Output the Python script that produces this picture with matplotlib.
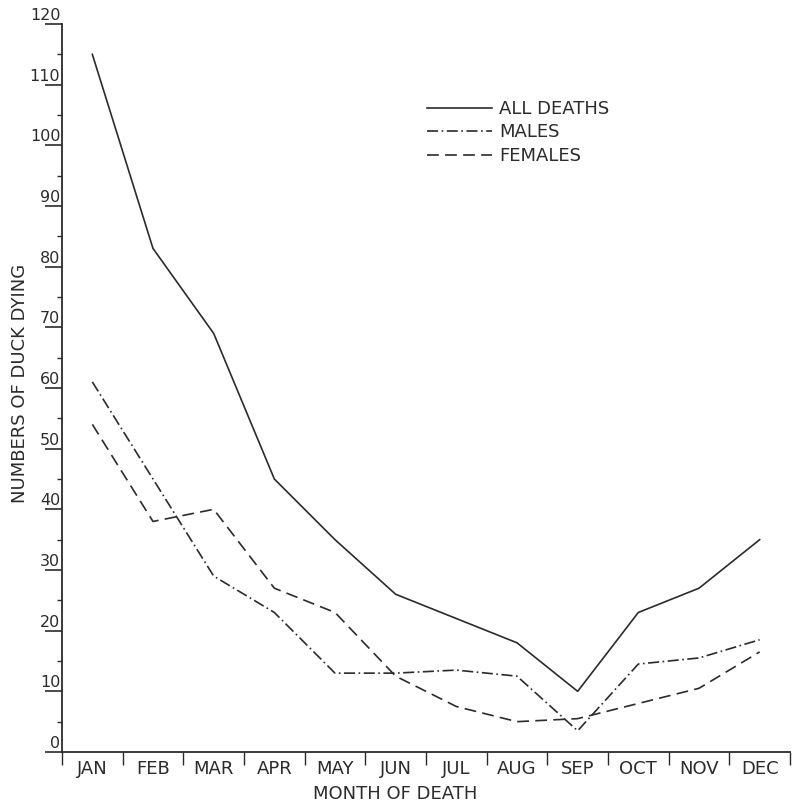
import numpy as np
import matplotlib
matplotlib.use("Agg")
import matplotlib.pyplot as plt
from matplotlib.transforms import ScaledTranslation

months = ["JAN", "FEB", "MAR", "APR", "MAY", "JUN", "JUL", "AUG", "SEP", "OCT", "NOV", "DEC"]
all_deaths = [115, 83, 69, 45, 35, 26, 22, 18, 10, 23, 27, 35]
males = [61, 45, 29, 23, 13, 13, 13.5, 12.5, 3.5, 14.5, 15.5, 18.5]
females = [54, 38, 40, 27, 23, 12.5, 7.5, 5, 5.5, 8, 10.5, 16.5]
y_ticks = [0, 10, 20, 30, 40, 50, 60, 70, 80, 90, 100, 110, 120]
y_tick_labels = [str(v) for v in y_ticks]

plt.rcParams['font.family'] = ['DejaVu Sans']
plt.rcParams['lines.scale_dashes'] = False

W, H = 792, 805
fig = plt.figure(figsize=(W / 100, H / 100), dpi=100)
fig.patch.set_facecolor('white')
ax = fig.add_axes([62 / W, 1 - 752 / H, 728 / W, 728 / H])

col = '#2b2b2b'
x = np.arange(len(months)) + 0.5
ax.plot(x, all_deaths, color=col, lw=1.2, ls='-', label='ALL DEATHS')
ax.plot(x, males, color=col, lw=1.2, dashes=[8, 2.5, 1.2, 2.5], label='MALES')
ax.plot(x, females, color=col, lw=1.2, dashes=[8.5, 4.5], label='FEMALES')

ax.set_xlim(0, 12)
ax.set_ylim(0, 120)
for s in ['top', 'right']:
    ax.spines[s].set_visible(False)
for s in ['left', 'bottom']:
    ax.spines[s].set_linewidth(1.3)
    ax.spines[s].set_color(col)

# x axis: month labels centered, separators as minor ticks
ax.set_xticks(x)
ax.set_xticklabels(months, fontsize=13)
ax.set_xticks(np.arange(0, 13), minor=True)
ax.tick_params(axis='x', which='major', length=0, pad=6, colors=col)
ax.tick_params(axis='x', which='minor', length=9, width=1.0, direction='out', color=col)

# y axis
ax.set_yticks(y_ticks)
ax.set_yticklabels(y_tick_labels, fontsize=11.5)
ax.set_yticks(np.arange(5, 120, 10), minor=True)
ax.tick_params(axis='y', which='major', length=12, width=1.2, pad=0, colors=col)
ax.tick_params(axis='y', which='minor', length=3.5, width=1.0, color=col)
off = ScaledTranslation(15 / 100, 1 / 100, fig.dpi_scale_trans)
for lbl in ax.get_yticklabels():
    lbl.set_va('bottom')
    lbl.set_transform(lbl.get_transform() + off)

ax.set_xlabel('MONTH OF DEATH', fontsize=13, color=col)
ax.xaxis.set_label_coords((395 - 62) / 728, (752 - 785) / 728)
ax.set_ylabel('NUMBERS OF DUCK DYING', fontsize=13, color=col)
ax.yaxis.set_label_coords((29 - 62) / 728, (752 - 383) / 728)

leg = ax.legend(loc='upper left', bbox_to_anchor=(427 / W, 1 - 100 / H),
                bbox_transform=fig.transFigure, frameon=False, fontsize=13,
                handlelength=3.6, handletextpad=0.4, labelspacing=0.3,
                borderpad=0, borderaxespad=0)
for t in leg.get_texts():
    t.set_color(col)

fig.savefig('out.png', dpi=100, facecolor='white')
